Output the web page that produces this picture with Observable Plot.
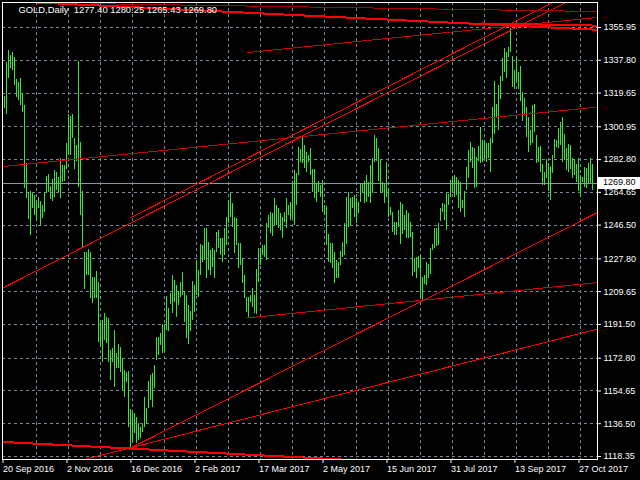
<!DOCTYPE html>
<html>
<head>
<meta charset="utf-8">
<script src="https://cdn.jsdelivr.net/npm/d3@7"></script>
<script src="https://cdn.jsdelivr.net/npm/@observablehq/plot@0.6"></script>
<style>
  html, body { margin: 0; padding: 0; background: #000; }
  #chart { width: 640px; height: 480px; overflow: hidden; }
</style>
</head>
<body>
<div id="chart"></div>
<script>
const symbolTitle = "GOLD,Daily  1277.40 1280.25 1265.43 1269.80";
const lastClose = 1269.80;

// Daily bar highs / lows (bar index 0 = 20 Sep 2016)
const highs = [
1317.7,1336.6,1343.2,1340.4,1342.1,1339.3,1327.2,1325.5,1327.7,1319.4,
1312.8,1280.6,1264.6,1265.1,1264.0,1262.9,1259.6,1261.8,1259.6,1257.4,
1264.6,1273.4,1274.5,1267.9,1271.8,1276.8,1275.6,1272.9,1283.4,1279.5,
1279.5,1291.7,1307.8,1306.7,1307.8,1294.5,1290.6,1337.1,1292.3,1265.1,
1231.3,1231.3,1233.0,1231.3,1217.5,1217.5,1220.8,1214.7,1192.6,1193.7,
1197.6,1195.3,1194.8,1177.1,1178.2,1188.2,1175.4,1180.4,1178.7,1172.6,
1166.0,1164.9,1165.4,1144.4,1142.7,1142.2,1140.0,1136.6,1134.4,1136.1,
1151.0,1145.0,1159.9,1163.2,1164.3,1168.8,1184.3,1184.3,1186.5,1191.5,
1190.9,1207.0,1200.3,1208.6,1218.6,1215.8,1213.1,1209.7,1214.7,1220.3,
1209.7,1207.5,1202.0,1198.7,1215.3,1213.1,1226.4,1221.4,1235.8,
1235.2,1244.6,1244.6,1236.9,1232.5,1233.6,1232.5,1242.4,1243.5,1239.1,1239.1,
1244.6,1250.7,1260.1,1264.0,1258.5,1250.7,1250.2,1236.3,1236.3,1227.5,
1218.6,1206.4,1206.4,1207.5,1211.4,1207.5,1221.9,1233.6,1233.6,1235.2,
1235.2,1247.4,1251.8,1253.5,1252.9,1261.2,1257.4,1255.7,1252.9,1250.7,
1253.5,1261.2,1257.4,1259.0,1270.7,1276.8,1275.1,1289.5,1288.4,1295.0,
1290.6,1286.7,1285.1,1288.9,1277.3,1277.3,1269.5,1270.7,1268.4,1271.2,
1257.4,1256.8,1241.3,1236.3,1236.3,1231.3,1226.9,1225.8,1231.9,1236.9,
1247.4,1261.8,1264.6,1261.2,1261.8,1262.9,1261.2,1259.0,1269.6,1269.6,
1270.7,1274.0,1270.1,1279.5,1283.4,1296.1,1294.5,1288.9,1282.3,1270.1,
1269.6,1281.2,1266.8,1256.3,1253.5,1248.0,1248.0,
1254.6,1259.0,1257.9,1251.8,1254.6,1252.9,1248.0,1242.4,1228.0,1228.6,
1229.1,1229.7,1217.5,1218.6,1225.8,1224.7,1233.6,1235.8,1244.6,1244.6,
1247.4,1255.7,1258.5,1257.9,1264.0,1263.5,1271.2,1272.9,1274.0,1272.9,
1271.2,1270.1,1260.1,1265.1,1278.4,1287.8,1292.3,1289.5,1288.9,1284.0,
1290.0,1300.6,1293.4,1293.4,1291.7,1291.7,1294.5,1311.6,1326.0,1313.3,
1323.8,1328.8,1338.8,1344.3,1342.1,1344.9,1355.4,1339.9,1332.1,1338.8,
1331.0,1334.3,1320.0,1316.6,1311.6,1306.1,1298.9,1312.8,1313.3,1296.1,
1289.5,1290.0,1280.1,1275.6,1282.8,1280.6,1279.0,1285.1,1293.9,1293.4,
1300.0,1303.3,1306.1,1296.7,1288.9,1291.1,1290.6,1283.4,1282.8,1280.1,
1283.4,1274.0,1272.9,1278.4,1277.9,1280.6,1283.4,1280.25
];
const lows = [
1311.1,1307.8,1327.7,1333.2,1332.1,1323.8,1317.2,1315.5,1312.8,1308.9,
1266.8,1261.2,1249.6,1240.8,1255.7,1251.8,1248.5,1255.7,1245.7,1250.2,
1253.5,1264.0,1264.6,1260.7,1259.6,1261.8,1265.7,1264.6,1261.2,1270.1,
1270.7,1277.3,1285.6,1285.1,1294.5,1277.3,1281.7,1267.3,1251.8,1233.6,
1210.9,1218.6,1218.6,1205.9,1203.1,1205.9,1205.9,1181.5,1178.7,1170.4,
1182.6,1180.9,1170.4,1160.5,1170.4,1156.6,1167.1,1167.1,1164.9,1154.9,
1151.0,1159.3,1134.4,1123.4,1126.1,1131.1,1125.6,1127.2,1128.3,1131.7,
1134.4,1136.6,1145.0,1149.4,1145.5,1156.0,1171.5,1174.3,1179.8,1175.4,
1176.0,1188.2,1187.6,1202.5,1197.6,1203.6,1195.3,1202.0,1206.4,1207.5,
1192.6,1183.7,1180.4,1187.6,1193.7,1198.1,1207.5,1206.4,1218.6,
1225.8,1226.9,1216.9,1221.4,1218.6,1223.1,1216.9,1231.3,1233.6,1229.7,1225.8,
1229.7,1235.2,1247.4,1250.7,1245.2,1230.8,1235.2,1222.5,1224.2,1214.2,
1205.9,1198.1,1194.8,1203.6,1200.9,1197.6,1197.0,1214.7,1224.2,1229.7,
1228.6,1226.9,1244.6,1241.9,1240.2,1246.3,1246.3,1244.6,1243.5,1239.1,
1248.0,1244.6,1251.8,1249.1,1250.2,1246.3,1257.4,1274.0,1281.2,1280.6,
1277.9,1275.6,1281.2,1274.0,1264.6,1261.2,1259.0,1264.6,1261.8,1253.5,
1251.8,1235.2,1225.8,1225.3,1222.5,1214.2,1217.0,1217.0,1224.2,1228.6,
1229.7,1235.8,1245.2,1245.7,1255.7,1250.7,1247.4,1252.9,1259.0,1264.0,
1258.5,1259.0,1261.8,1258.5,1264.0,1281.2,1281.7,1270.7,1264.0,1264.6,
1258.5,1261.8,1250.7,1251.8,1242.4,1240.8,1240.8,
1245.2,1235.8,1241.3,1243.5,1239.1,1239.1,1239.6,1218.1,1220.3,1216.9,
1222.5,1205.9,1204.8,1213.6,1213.1,1217.0,1219.2,1232.5,1233.6,1234.7,
1235.2,1248.5,1253.5,1249.1,1243.5,1257.4,1261.8,1264.6,1261.8,1262.9,
1255.7,1253.5,1255.7,1250.7,1265.7,1272.3,1281.2,1277.9,1266.8,1267.3,
1281.7,1280.6,1281.2,1282.8,1281.2,1283.4,1275.6,1291.7,1296.7,1305.6,
1298.9,1316.1,1326.0,1331.0,1327.7,1339.3,1342.1,1322.7,1321.6,1325.5,
1321.6,1315.0,1303.9,1307.2,1295.0,1286.7,1290.6,1291.7,1297.8,1280.6,
1281.2,1275.6,1268.4,1268.4,1272.3,1265.1,1260.1,1275.1,1283.4,1289.5,
1288.9,1290.6,1281.2,1282.3,1276.8,1275.6,1277.3,1272.3,1274.0,1270.1,
1265.1,1261.8,1270.1,1267.3,1266.8,1269.6,1269.6,1265.43
];

// Price axis labels
const priceTicks = [1355.95,1337.80,1319.65,1300.95,1282.80,1264.65,1246.50,1227.80,1209.65,1191.50,1172.80,1154.65,1136.50,1118.35];
// Date axis labels (bar index -> label)
const dateTickBars = [0,32,64,96,128,160,192,224,256,288];
const dateTickLabels = ["20 Sep 2016","2 Nov 2016","16 Dec 2016","2 Feb 2017","17 Mar 2017","2 May 2017","15 Jun 2017","31 Jul 2017","13 Sep 2017","27 Oct 2017"];
const gridBars = [16,32,48,64,80,96,112,128,144,160,176,192,208,224,240,256,272,288];

// Trend lines: anchor points (bar index, price) and ray mode
const tlBar1   = [-0.25, 63.75, 63.75, -0.25, 62.75, -0.25, 121.75, 121.75, 98.25, 43.25, 239.0];
const tlPrice1 = [1126.4,1123.3,1123.3,1211.9,1250.3,1279.0,1195.1,1342.1,1365.4,1369.2,1358.2];
const tlBar2   = [163.25,296.75,296.75,279.75,273.25,296.75,296.75,296.75,296.75,296.75,296.75];
const tlPrice2 = [1117.0,1188.9,1253.5,1369.2,1369.2,1311.9,1214.7,1361.5,1354.7,1364.8,1357.0];
const tlMode   = ["both","both","right","both","right","both","right","right","both","right","right"];

// styles (not data)
const tlStroke = ["#ff0000","#ff0000","#ff0000","#ff0000","#ff0000","#c00000","#d00000","#c80000","#ff0000","#a00000","#ff0000"];
const tlWidth  = [2,1,1,1,1,1,1,1,2,1,2];

const bars = highs.map((h, i) => ({i, high: h, low: lows[i]}));
const XMIN = -0.75, XMAX = 296.75;
const trend = tlBar1.map((b1, k) => {
  const slope = (tlPrice2[k] - tlPrice1[k]) / (tlBar2[k] - b1);
  const start = tlMode[k] === "both" ? XMIN - 5 : b1;
  const end = XMAX + 5;
  return {
    x1: start, y1: tlPrice1[k] + slope * (start - b1),
    x2: end,   y2: tlPrice1[k] + slope * (end - b1),
    k
  };
});

const green = "#3ce23c";
const gridColor = "#778899";

const chart = Plot.plot({
  width: 640,
  height: 480,
  marginLeft: 2,
  marginRight: 43,
  marginTop: 2,
  marginBottom: 21,
  style: {background: "#000", color: "#fff", fontFamily: "'Liberation Sans', Arial, sans-serif", fontSize: "9px"},
  x: {type: "linear", domain: [XMIN, XMAX], axis: null},
  y: {type: "linear", domain: [1116.69, 1369.80], axis: null},
  marks: [
    Plot.ruleY(priceTicks, {stroke: gridColor, strokeDasharray: "3,3", shapeRendering: "crispEdges"}),
    Plot.ruleX(gridBars, {stroke: gridColor, strokeDasharray: "3,3", shapeRendering: "crispEdges"}),
    Plot.ruleY([lastClose], {stroke: "#8c96a0", shapeRendering: "crispEdges"}),
    Plot.ruleX(bars, {x: "i", y1: "low", y2: "high", stroke: green, shapeRendering: "crispEdges"}),
    Plot.link(trend, {x1: "x1", y1: "y1", x2: "x2", y2: "y2",
      stroke: d => tlStroke[d.k], strokeWidth: d => tlWidth[d.k], clip: true, shapeRendering: "crispEdges"}),
    Plot.frame({stroke: "#fff", shapeRendering: "crispEdges"}),
    Plot.axisX(dateTickBars, {anchor: "bottom", tickSize: 4, tickPadding: 2, textAnchor: "start", dx: -1,
      tickFormat: d => dateTickLabels[dateTickBars.indexOf(d)], stroke: "#fff", fill: "#fff", label: null}),
    Plot.axisY(priceTicks, {anchor: "right", tickSize: 3, tickPadding: 3,
      tickFormat: d => d.toFixed(2), stroke: "#fff", fill: "#fff", label: null}),
    Plot.text([symbolTitle], {frameAnchor: "top-left", dx: 16, dy: 4, lineAnchor: "top", textAnchor: "start", fill: "#fff", fontSize: 9.4})
  ]
});

// current price label box on the price axis
const svg = d3.select(chart);
const yPos = chart.scale("y").apply(lastClose);
const g = svg.append("g");
g.append("rect").attr("x", 598).attr("y", Math.round(yPos) - 6).attr("width", 42).attr("height", 12).attr("fill", "#fff");
g.append("text").attr("x", 603).attr("y", yPos).attr("dy", "0.32em")
  .attr("text-anchor", "start")
  .attr("fill", "#000").attr("font-size", 9).attr("font-family", "'Liberation Sans', Arial, sans-serif")
  .text(lastClose.toFixed(2));

document.getElementById("chart").appendChild(chart);
</script>
</body>
</html>
